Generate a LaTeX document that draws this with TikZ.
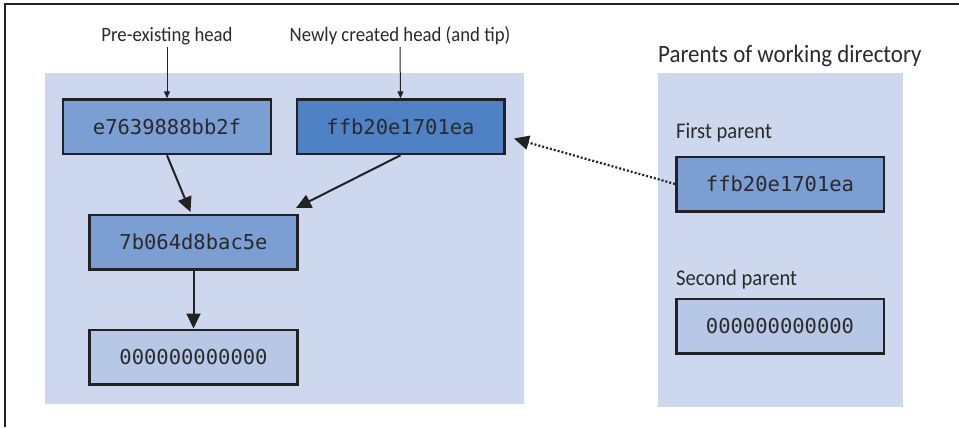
\documentclass[tikz,border=0pt]{standalone}
\usepackage{fontspec}
\usetikzlibrary{arrows.meta,calc}
\newfontfamily\labfont[FakeStretch=0.92]{Carlito}
\newfontfamily\hashfont{DejaVu Sans Mono}
\definecolor{panelbg}{HTML}{CDD8EE}
\definecolor{midblue}{HTML}{7B9ED3}
\definecolor{darkblue}{HTML}{4F82C4}
\definecolor{lightblue}{HTML}{B6C8E6}
\definecolor{edgecol}{HTML}{222222}
\definecolor{txtcol}{HTML}{2A2A2A}
\tikzset{
  x=1bp, y=-1bp,
  hashbox/.style={draw=edgecol, line width=2.5bp, minimum width=207.5bp, minimum height=54.5bp,
    inner sep=0pt, text=txtcol, font=\hashfont\fontsize{20.5bp}{24bp}\selectfont},
  toplabel/.style={anchor=base, inner sep=0pt, text=txtcol, font=\labfont\fontsize{20.4bp}{24bp}\selectfont},
  parlabel/.style={anchor=base west, inner sep=0pt, text=txtcol, font=\labfont\fontsize{22.4bp}{26bp}\selectfont},
  titlelabel/.style={anchor=base west, inner sep=0pt, text=txtcol, font=\labfont\fontsize{24.9bp}{28bp}\selectfont},
  thinarrow/.style={draw=edgecol, line width=1bp, -{Triangle[length=7bp,width=6bp]}},
  thickarrow/.style={draw=edgecol, line width=2bp, -{Triangle[length=15bp,width=14bp]}},
  dotarrow/.style={draw=edgecol, line width=2.2bp, dash pattern=on 2bp off 2bp, -{Triangle[length=15bp,width=14bp]}},
}
\begin{document}
\begin{tikzpicture}
\useasboundingbox (0,0) rectangle (959,427);
% frame
\draw[edgecol, line width=1.5bp] (5,427) -- (5,4) -- (959,4);
% panels
\fill[panelbg] (45,73) rectangle (524,404);
\fill[panelbg] (658,73) rectangle (903,407);
% boxes
\node[hashbox, fill=midblue] (e763) at (167,126.8) {e7639888bb2f};
\node[hashbox, fill=darkblue] (ffbL) at (400.5,126.8) {ffb20e1701ea};
\node[hashbox, fill=midblue] (b064) at (193.5,242) {7b064d8bac5e};
\node[hashbox, fill=lightblue] (zeroL) at (193.5,357) {000000000000};
\node[hashbox, fill=midblue] (ffbR) at (780,184) {ffb20e1701ea};
\node[hashbox, fill=lightblue] (zeroR) at (780,326) {000000000000};
% labels
\node[toplabel] (lpre) at (167,41.5) {Pre-existing head};
\node[toplabel] (lnew) at (400,41.5) {Newly created head (and tip)};
\node[titlelabel] (ltitle) at (658,62.5) {Parents of working directory};
\node[parlabel] (lfirst) at (676,138) {First parent};
\node[parlabel] (lsecond) at (676,285) {Second parent};
% label arrows
\coordinate (cpre) at (167,47);
\coordinate (cnew) at (400,47);
\draw[thinarrow] (cpre) -- (e763.north);
\draw[thinarrow] (cnew) -- (ffbL.north);
% commit arrows
\coordinate (tipA) at (190.5,212);
\coordinate (tipB) at (296,208);
\draw[thickarrow] (e763.south) -- (tipA);
\draw[thickarrow] (ffbL.south) -- (tipB);
\draw[thickarrow] (b064.south) -- (zeroL.north);
% dotted arrow
\coordinate (tipC) at (514,138.5);
\draw[dotarrow] (ffbR.west) -- (tipC);
\end{tikzpicture}
\end{document}
